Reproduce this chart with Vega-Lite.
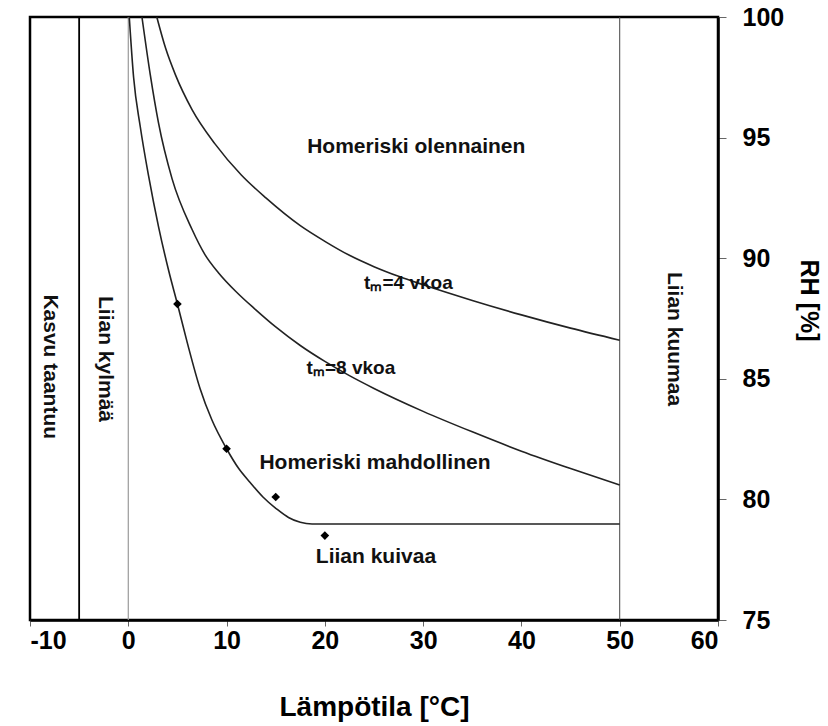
{
  "$schema": "https://vega.github.io/schema/vega-lite/v6.json",
  "width": 688,
  "height": 603,
  "autosize": {"type": "none"},
  "padding": {"left": 30, "top": 17, "right": 110, "bottom": 106},
  "background": "white",
  "config": {
    "view": {"stroke": "black", "strokeWidth": 2.5},
    "font": "Liberation Sans",
    "axis": {"grid": false, "labelFont": "Liberation Sans", "titleFont": "Liberation Sans", "labelColor": "black", "titleColor": "black", "domainColor": "black", "tickColor": "#666"}
  },
  "datasets": {
    "curves": [
      {"curve": "lim", "t": 0.1, "rh": 100}, {"curve": "lim", "t": 0.54, "rh": 97.5}, {"curve": "lim", "t": 1.22, "rh": 95.45}, {"curve": "lim", "t": 2.07, "rh": 93.4}, {"curve": "lim", "t": 3.08, "rh": 91.3}, {"curve": "lim", "t": 4.1, "rh": 89.5}, {"curve": "lim", "t": 5, "rh": 88.1}, {"curve": "lim", "t": 6, "rh": 86.5}, {"curve": "lim", "t": 7.3, "rh": 84.6}, {"curve": "lim", "t": 8.5, "rh": 83.3}, {"curve": "lim", "t": 10, "rh": 82.1}, {"curve": "lim", "t": 11.2, "rh": 81.3}, {"curve": "lim", "t": 12.4, "rh": 80.7}, {"curve": "lim", "t": 13.7, "rh": 80.1}, {"curve": "lim", "t": 15.1, "rh": 79.6}, {"curve": "lim", "t": 16.3, "rh": 79.25}, {"curve": "lim", "t": 17.5, "rh": 79.05}, {"curve": "lim", "t": 18.7, "rh": 78.98}, {"curve": "lim", "t": 30, "rh": 78.98}, {"curve": "lim", "t": 50, "rh": 78.98},
      {"curve": "t8", "t": 1.39, "rh": 100}, {"curve": "t8", "t": 2.24, "rh": 97.6}, {"curve": "t8", "t": 3.08, "rh": 95.6}, {"curve": "t8", "t": 4.45, "rh": 93.3}, {"curve": "t8", "t": 6.48, "rh": 91.2}, {"curve": "t8", "t": 7.8, "rh": 90.15}, {"curve": "t8", "t": 9.19, "rh": 89.39}, {"curve": "t8", "t": 11, "rh": 88.6}, {"curve": "t8", "t": 12.92, "rh": 87.88}, {"curve": "t8", "t": 15, "rh": 87.15}, {"curve": "t8", "t": 17.5, "rh": 86.38}, {"curve": "t8", "t": 20, "rh": 85.72}, {"curve": "t8", "t": 22.5, "rh": 85.13}, {"curve": "t8", "t": 25, "rh": 84.6}, {"curve": "t8", "t": 30, "rh": 83.65}, {"curve": "t8", "t": 35, "rh": 82.8}, {"curve": "t8", "t": 40, "rh": 82.0}, {"curve": "t8", "t": 45, "rh": 81.28}, {"curve": "t8", "t": 50, "rh": 80.6},
      {"curve": "t4", "t": 2.9, "rh": 100}, {"curve": "t4", "t": 3.8, "rh": 98.7}, {"curve": "t4", "t": 4.8, "rh": 97.6}, {"curve": "t4", "t": 6.5, "rh": 96.15}, {"curve": "t4", "t": 8.8, "rh": 94.75}, {"curve": "t4", "t": 11.5, "rh": 93.45}, {"curve": "t4", "t": 14, "rh": 92.5}, {"curve": "t4", "t": 17.5, "rh": 91.35}, {"curve": "t4", "t": 20, "rh": 90.7}, {"curve": "t4", "t": 22.5, "rh": 90.12}, {"curve": "t4", "t": 25, "rh": 89.65}, {"curve": "t4", "t": 27.5, "rh": 89.25}, {"curve": "t4", "t": 30, "rh": 88.9}, {"curve": "t4", "t": 35, "rh": 88.25}, {"curve": "t4", "t": 40, "rh": 87.65}, {"curve": "t4", "t": 45, "rh": 87.1}, {"curve": "t4", "t": 50, "rh": 86.6}
    ],
    "points": [
      {"t": 5, "rh": 88.1}, {"t": 10, "rh": 82.1}, {"t": 15, "rh": 80.1}, {"t": 20, "rh": 78.5}
    ],
    "labels": [
      {"label": "Homeriski olennainen", "t": 29.3, "rh": 94.6},
      {"label": "Homeriski mahdollinen", "t": 25.1, "rh": 81.5},
      {"label": "Liian kuivaa", "t": 25.2, "rh": 77.63}
    ],
    "tlabels": [
      {"label": "tₘ=4 vkoa", "t": 28.5, "rh": 88.96},
      {"label": "tₘ=8 vkoa", "t": 22.65, "rh": 85.45}
    ],
    "vlabels": [
      {"label": "Kasvu taantuu", "t": -7.93, "rh": 85.5},
      {"label": "Liian kylmää", "t": -2.34, "rh": 85.82},
      {"label": "Liian kuumaa", "t": 55.5, "rh": 86.65}
    ]
  },
  "layer": [
    {
      "data": {"values": [{"t": 0}]},
      "mark": {"type": "rule", "color": "#999", "strokeWidth": 1.2},
      "encoding": {"x": {"field": "t", "type": "quantitative"}}
    },
    {
      "data": {"values": [{"t": -5}]},
      "mark": {"type": "rule", "color": "black", "strokeWidth": 1.8},
      "encoding": {"x": {"field": "t", "type": "quantitative"}}
    },
    {
      "data": {"values": [{"t": 50}]},
      "mark": {"type": "rule", "color": "#444", "strokeWidth": 1},
      "encoding": {"x": {"field": "t", "type": "quantitative"}}
    },
    {
      "data": {"name": "curves"},
      "mark": {"type": "line", "color": "#222", "strokeWidth": 1.6, "interpolate": "monotone"},
      "encoding": {
        "x": {
          "field": "t", "type": "quantitative",
          "scale": {"domain": [-10, 60], "nice": false, "zero": false},
          "axis": {
            "values": [-10, 0, 10, 20, 30, 40, 50, 60],
            "labelExpr": "datum.value",
            "title": "Lämpötila [°C]",
            "titleFontSize": 28, "titleFontWeight": "bold", "titlePadding": 40,
            "labelFontSize": 25, "labelFontWeight": "bold", "labelPadding": 2,
            "domainWidth": 2.5, "tickSize": 6, "tickWidth": 1
          }
        },
        "y": {
          "field": "rh", "type": "quantitative",
          "scale": {"domain": [75, 100], "nice": false, "zero": false},
          "axis": {
            "orient": "right",
            "values": [75, 80, 85, 90, 95, 100],
            "title": "RH [%]",
            "titleFontSize": 25, "titleFontWeight": "bold", "titlePadding": 12, "titleY": 283,
            "labelFontSize": 25, "labelFontWeight": "bold", "labelPadding": 16,
            "domainWidth": 2.5, "tickSize": 8, "tickWidth": 1
          }
        },
        "detail": {"field": "curve", "type": "nominal"}
      }
    },
    {
      "data": {"name": "points"},
      "mark": {"type": "point", "shape": "diamond", "filled": true, "color": "black", "size": 75, "opacity": 1},
      "encoding": {
        "x": {"field": "t", "type": "quantitative"},
        "y": {"field": "rh", "type": "quantitative"}
      }
    },
    {
      "data": {"name": "labels"},
      "mark": {"type": "text", "fontSize": 21, "fontWeight": "bold", "color": "#111", "align": "center", "baseline": "middle"},
      "encoding": {
        "x": {"field": "t", "type": "quantitative"},
        "y": {"field": "rh", "type": "quantitative"},
        "text": {"field": "label"}
      }
    },
    {
      "data": {"name": "tlabels"},
      "mark": {"type": "text", "fontSize": 19, "fontWeight": "bold", "color": "#111", "align": "center", "baseline": "middle"},
      "encoding": {
        "x": {"field": "t", "type": "quantitative"},
        "y": {"field": "rh", "type": "quantitative"},
        "text": {"field": "label"}
      }
    },
    {
      "data": {"name": "vlabels"},
      "mark": {"type": "text", "fontSize": 21, "fontWeight": "bold", "color": "#111", "align": "center", "baseline": "middle", "angle": 90},
      "encoding": {
        "x": {"field": "t", "type": "quantitative"},
        "y": {"field": "rh", "type": "quantitative"},
        "text": {"field": "label"}
      }
    }
  ]
}
